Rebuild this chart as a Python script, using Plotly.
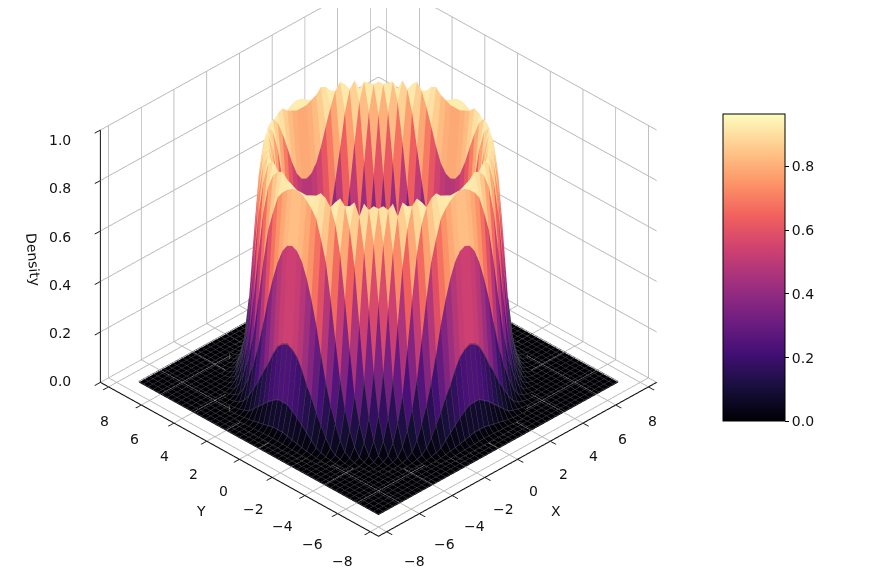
import numpy as np
import plotly.graph_objects as go
from plotly.colors import sample_colorscale, get_colorscale

GRID_HALF_WIDTH = 7.33
GRID_HALF_CELLS = 25

# Density read by eye: one octant of the visibly symmetric surface.
# Row n holds the cells (n, 0..n) counted from the centre; omitted cells are 0.
DENSITY_OCTANT = [
    [], [], [], [], [], [], [], [],
    [0, 0, 0, 0, 0, 0, 0, 0, .006],
    [0, 0, 0, 0, 0, 0, .001, .007, .022, .07],
    [0, 0, 0, 0, 0, .004, .012, .033, .08, .18, .345],
    [.002, .003, .004, .007, .013, .025, .053, .107, .21, .37, .60, .83],
    [.02, .022, .03, .042, .065, .10, .175, .275, .435, .65, .84, .94, .94],
    [.10, .107, .127, .16, .21, .285, .40, .56, .73, .88, .95, .935, .81, .585],
    [.30, .31, .345, .40, .48, .60, .72, .85, .93, .955, .91, .78, .56, .32, .16],
    [.65, .66, .69, .745, .815, .88, .935, .96, .94, .86, .72, .50, .29, .15, .068, .02],
    [.92, .92, .93, .94, .96, .95, .925, .87, .76, .59, .40, .23, .13, .06, .02, .006, .001],
    [.94, .935, .92, .90, .87, .80, .72, .585, .43, .28, .175, .10, .045, .015, .005, .001],
    [.73, .72, .69, .635, .56, .47, .36, .26, .18, .115, .06, .025, .01, .003],
    [.35, .34, .32, .28, .23, .19, .14, .10, .06, .03, .013, .006, .001],
    [.13, .13, .115, .10, .08, .06, .04, .02, .012, .006, .002],
    [.03, .03, .025, .02, .016, .011, .007, .004, .001],
    [.005, .005, .004, .003, .002, .001],
    [], [], [],
]
AXIS_TICKS = [-8, -6, -4, -2, 0, 2, 4, 6, 8]
Z_TICKS = [0.0, 0.2, 0.4, 0.6, 0.8, 1.0]
CBAR_TICKS = [0.0, 0.2, 0.4, 0.6, 0.8]
CMAX = 0.963
AXIS_LIMIT = 8.5
AXIS_TITLES = ["X", "Y", "Density"]


def octant(a, b):
    hi, lo = max(abs(a), abs(b)), min(abs(a), abs(b))
    row = DENSITY_OCTANT[hi]
    return row[lo] if lo < len(row) else 0.0


idx = list(range(-GRID_HALF_CELLS, GRID_HALF_CELLS + 1))
coords = np.linspace(-GRID_HALF_WIDTH, GRID_HALF_WIDTH, len(idx))
Z = np.array([[octant(a, b) for a in idx] for b in idx])
X, Y = np.meshgrid(coords, coords)
n = len(idx)

vid = np.arange(n * n).reshape(n, n)
ii, jj, kk, face_vals = [], [], [], []
for r in range(n - 1):
    for c in range(n - 1):
        a, b, d, e = vid[r, c], vid[r, c + 1], vid[r + 1, c + 1], vid[r + 1, c]
        m = Z[r:r + 2, c:c + 2].mean()
        ii += [a, a]
        jj += [b, d]
        kk += [d, e]
        face_vals += [m, m]

cs = get_colorscale("Magma")
face_colors = sample_colorscale(cs, list(np.clip(np.array(face_vals) / CMAX, 0, 1)))

fig = go.Figure()
fig.add_trace(go.Mesh3d(
    x=X.ravel(), y=Y.ravel(), z=Z.ravel(), i=ii, j=jj, k=kk,
    facecolor=face_colors, flatshading=True, hoverinfo="skip",
    lighting=dict(ambient=1, diffuse=0, specular=0, roughness=1, fresnel=0),
))

# faint seams between the facets on the dark low part of the surface, lifted a hair off it
lx, ly, lz = [], [], []
for r in range(n):
    for line_x, line_y, line_z in ((X[r], Y[r], Z[r]), (X[:, r], Y[:, r], Z[:, r])):
        for a, b, c in zip(line_x, line_y, line_z):
            if c < 0.4:
                lx.append(float(a))
                ly.append(float(b))
                lz.append(float(c) + 0.004)
            else:
                lx.append(None)
                ly.append(None)
                lz.append(None)
        lx.append(None)
        ly.append(None)
        lz.append(None)
fig.add_trace(go.Scatter3d(
    x=lx, y=ly, z=lz, mode="lines", hoverinfo="skip", showlegend=False,
    line=dict(color="#46464c", width=1), connectgaps=False,
))

fig.add_trace(go.Scatter3d(
    x=[None], y=[None], z=[None], mode="markers", showlegend=False,
    marker=dict(
        size=1, color=[0], cmin=0, cmax=CMAX, colorscale="Magma", showscale=True,
        colorbar=dict(
            x=714.7 / 870, xanchor="left", xpad=0, y=1 - 259.9 / 570, yanchor="middle", ypad=0,
            thickness=62, thicknessmode="pixels", len=307, lenmode="pixels",
            outlinecolor="black", outlinewidth=1, tickvals=CBAR_TICKS, tickformat=".1f",
            ticks="outside", ticklen=4, tickcolor="black", tickfont=dict(size=14, color="#111"),
        ),
    ),
))


def axis(ticks, rng):
    return dict(
        title=dict(text=""), showticklabels=False,
        range=rng, tickvals=ticks, ticks="outside", ticklen=8, tickwidth=2, tickcolor="#111",
        showgrid=True, gridcolor="#b8b8b8", gridwidth=2,
        showline=True, linecolor="#111", linewidth=2.5, zeroline=False,
        showbackground=True, backgroundcolor="white", showspikes=False,
    )


label_font = dict(size=14, color="#111")
tick_labels = []
for v in AXIS_TICKS:
    text = str(v).replace("-", "\u2212")
    sx = 16 - 1.5 * v
    sy = -32 - 0.3 * v
    tick_labels.append(dict(x=v, y=-AXIS_LIMIT, z=0, text=text, showarrow=False, xshift=sx, yshift=sy, font=label_font))
    tick_labels.append(dict(x=-AXIS_LIMIT, y=v, z=0, text=text, showarrow=False, xshift=-sx, yshift=sy, font=label_font))
for v in Z_TICKS:
    tick_labels.append(dict(x=-AXIS_LIMIT, y=AXIS_LIMIT, z=v, text=f"{v:.1f}", showarrow=False, xshift=-40, yshift=1 - 11 * v, font=label_font))


def ax(px):
    return (px - 17.5) / 0.983 / 870


def ay(py):
    return 1 - (py - 16) / 0.964 / 570


fig.update_layout(
    width=870, height=570, margin=dict(l=0, r=0, t=0, b=0),
    paper_bgcolor="white", font=dict(family="DejaVu Sans"), showlegend=False,
    scene=dict(
        domain=dict(x=[0, 0.852], y=[0, 1]),
        xaxis=axis(AXIS_TICKS, [-AXIS_LIMIT, AXIS_LIMIT]),
        yaxis=axis(AXIS_TICKS, [-AXIS_LIMIT, AXIS_LIMIT]),
        zaxis=axis(Z_TICKS, [0, 1.0]),
        aspectmode="manual", aspectratio=dict(x=1.38, y=1.38, z=1.063),
        camera=dict(
            eye=dict(x=-0.889, y=-0.889, z=0.68), center=dict(x=0, y=0, z=-0.155),
            up=dict(x=0, y=0, z=1), projection=dict(type="orthographic"),
        ),
        annotations=tick_labels,
    ),
    annotations=[
        dict(text=AXIS_TITLES[0], x=ax(556), y=ay(511), xref="paper", yref="paper", showarrow=False, font=label_font),
        dict(text=AXIS_TITLES[1], x=ax(200), y=ay(511), xref="paper", yref="paper", showarrow=False, font=label_font),
        dict(text=AXIS_TITLES[2], x=ax(30), y=ay(258), xref="paper", yref="paper", showarrow=False, font=label_font, textangle=85),
    ],
)
fig.write_html("out.html")
